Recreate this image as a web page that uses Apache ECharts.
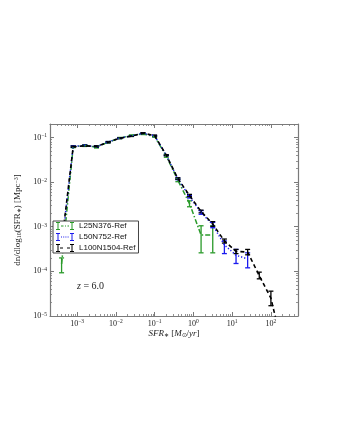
<!DOCTYPE html>
<html>
<head>
<meta charset="utf-8">
<script src="https://cdn.jsdelivr.net/npm/echarts@6/dist/echarts.min.js"></script>
<style>
  html, body { margin: 0; padding: 0; background: #fff; }
  #chart { width: 340px; height: 440px; }
</style>
</head>
<body>
<div id="chart"></div>
<script>
// bin centres in SFR [Msun/yr]
const sfrBins = [3.98e-4, 7.94e-4, 1.58e-3, 3.16e-3, 6.31e-3, 1.26e-2, 2.51e-2, 5.01e-2, 0.1, 0.2,
  0.398, 0.794, 1.58, 3.16, 6.31, 12.6, 25.1, 50.1, 100, 200];

// L25N376-Ref
const l25Values = [1.47e-4, 0.062, 0.066, 0.061, 0.078, 0.097, 0.11, 0.12, 0.105, 0.038, 0.011, 3.3e-3, 6.5e-4, 6.5e-4];
const l25Lo = [9.3e-5, 0.059, 0.063, 0.058, 0.075, 0.094, 0.106, 0.116, 0.101, 0.036, 0.0102, 2.8e-3, 2.6e-4, 2.6e-4];
const l25Hi = [2.0e-4, 0.065, 0.069, 0.064, 0.081, 0.1, 0.114, 0.124, 0.109, 0.04, 0.0118, 3.8e-3, 1.05e-3, 1.05e-3];

// L50N752-Ref
const l50Values = [3.5e-4, 0.063, 0.066, 0.062, 0.079, 0.097, 0.108, 0.124, 0.108, 0.04, 0.0118, 4.7e-3, 2.1e-3, 1.1e-3, 3.9e-4, 2.3e-4, 1.9e-4];
const l50Lo = [3.0e-4, 0.061, 0.064, 0.06, 0.077, 0.095, 0.106, 0.121, 0.105, 0.039, 0.0113, 4.4e-3, 1.9e-3, 9.5e-4, 2.5e-4, 1.5e-4, 1.2e-4];
const l50Hi = [4.0e-4, 0.065, 0.068, 0.064, 0.081, 0.099, 0.11, 0.127, 0.111, 0.041, 0.0123, 5.0e-3, 2.3e-3, 1.25e-3, 4.8e-4, 3.1e-4, 2.6e-4];

// L100N1504-Ref
const l100Values = [4.0e-4, 0.062, 0.065, 0.063, 0.078, 0.096, 0.107, 0.125, 0.11, 0.04, 0.012, 5.0e-3, 2.2e-3, 1.15e-3, 4.8e-4, 2.8e-4, 2.7e-4, 8.0e-5, 2.5e-5, 2.0e-6];
const l100Lo = [3.6e-4, 0.06, 0.063, 0.061, 0.076, 0.094, 0.105, 0.122, 0.107, 0.039, 0.0115, 4.7e-3, 2.05e-3, 1.02e-3, 4.3e-4, 2.5e-4, 2.35e-4, 6.8e-5, 1.7e-5, null];
const l100Hi = [4.4e-4, 0.064, 0.067, 0.065, 0.08, 0.098, 0.109, 0.128, 0.113, 0.041, 0.0125, 5.3e-3, 2.35e-3, 1.3e-3, 5.3e-4, 3.1e-4, 3.1e-4, 9.6e-5, 3.6e-5, null];

const serif = 'Liberation Serif';
const frameColor = '#7a7a7a';

// legend glyphs: error bar, line pattern, error bar (18 x 8 box)
const bars = 'M0 0H4V1H2.5V7H4V8H0V7H1.5V1H0Z M14 0H18V1H16.5V7H18V8H14V7H15.5V1H14Z';
const simulations = [
  {
    name: 'L25N376-Ref', color: '#2a9a2a', dash: [5, 2, 1.5, 2], width: 1.5,
    values: l25Values, lo: l25Lo, hi: l25Hi,
    icon: 'path://' + bars + ' M5 3.4H7.5V4.6H5Z M9 3.4H10V4.6H9Z M11.5 3.4H13V4.6H11.5Z',
  },
  {
    name: 'L50N752-Ref', color: '#1a1aee', dash: [1.2, 2], width: 1.5,
    values: l50Values, lo: l50Lo, hi: l50Hi,
    icon: 'path://' + bars + ' M5 3.4H6V4.6H5Z M7.2 3.4H8.2V4.6H7.2Z M9.4 3.4H10.4V4.6H9.4Z M11.6 3.4H12.6V4.6H11.6Z',
  },
  {
    name: 'L100N1504-Ref', color: '#000000', dash: [4, 3], width: 1.6,
    values: l100Values, lo: l100Lo, hi: l100Hi,
    icon: 'path://' + bars + ' M4 3.4H7V4.6H4Z M11 3.4H14V4.6H11Z',
  },
];

const powLabel = (v) => {
  const e = Math.log10(v);
  const r = Math.round(e);
  if (Math.abs(e - r) > 1e-6) return '';
  return '{b|10}{s|' + String(r).replace('-', '\u2212') + '}';
};

const labelRich = {
  b: { fontFamily: serif, fontSize: 8, color: '#222' },
  s: { fontFamily: serif, fontSize: 5.5, color: '#222', verticalAlign: 'top', padding: [0, 0, 3, 0] },
};

const logAxis = (extra) => Object.assign({
  type: 'log',
  logBase: 10,
  axisLine: { show: true, onZero: false, lineStyle: { color: frameColor, width: 1.2 } },
  axisTick: { show: true, inside: true, length: 4, lineStyle: { color: frameColor, width: 1 } },
  minorTick: { show: true, splitNumber: 9, length: 2, lineStyle: { color: frameColor, width: 0.8 } },
  splitLine: { show: false },
  minorSplitLine: { show: false },
}, extra);

const errorRender = (color) => (params, api) => {
  const x = api.value(0);
  const top = api.coord([x, api.value(2)]);
  const bot = api.coord([x, api.value(1)]);
  const cap = 2.5;
  const st = { stroke: color, lineWidth: 1.3 };
  return {
    type: 'group',
    children: [
      { type: 'line', shape: { x1: top[0], y1: top[1], x2: bot[0], y2: bot[1] }, style: st },
      { type: 'line', shape: { x1: top[0] - cap, y1: top[1], x2: top[0] + cap, y2: top[1] }, style: st },
      { type: 'line', shape: { x1: bot[0] - cap, y1: bot[1], x2: bot[0] + cap, y2: bot[1] }, style: st },
    ],
  };
};

const series = [];
simulations.forEach((s) => {
  series.push({
    name: s.name,
    type: 'line',
    color: s.color,
    data: s.values.map((v, i) => [sfrBins[i], v]),
    symbol: 'none',
    clip: true,
    lineStyle: { color: s.color, width: s.width, type: s.dash },
    animation: false,
  });
});
simulations.forEach((s) => {
  series.push({
    name: s.name,
    type: 'custom',
    color: s.color,
    data: s.lo.map((l, i) => [sfrBins[i], l, s.hi[i]]).filter((d) => d[1] !== null && d[1] !== undefined),
    encode: { x: 0, y: [1, 2] },
    renderItem: errorRender(s.color),
    clip: true,
    animation: false,
  });
});

const chart = echarts.init(document.getElementById('chart'), null, { renderer: 'canvas' });
chart.setOption({
  animation: false,
  backgroundColor: '#ffffff',
  grid: { left: 50, top: 124, width: 248, height: 192, outerBoundsMode: 'none' },
  xAxis: [
    logAxis({
      position: 'bottom', min: 2e-4, max: 500,
      axisLabel: { formatter: powLabel, rich: labelRich, margin: 3, showMinLabel: true, showMaxLabel: true },
      name: '{i|SFR}{sub|\u2217}{t| [}{i|M}{sub|\u2299}{t|/}{i|yr}{t|]}',
      nameLocation: 'middle',
      nameGap: 13,
      nameTextStyle: {
        rich: {
          i: { fontFamily: serif, fontStyle: 'italic', fontSize: 9, color: '#222' },
          t: { fontFamily: serif, fontSize: 9, color: '#222' },
          sub: { fontFamily: serif, fontSize: 6, color: '#222', verticalAlign: 'bottom' },
        },
      },
    }),
    logAxis({ position: 'top', min: 2e-4, max: 500, axisLabel: { show: false } }),
  ],
  yAxis: [
    logAxis({
      position: 'left', min: 1e-5, max: 0.2,
      axisLabel: { formatter: powLabel, rich: labelRich, margin: 3 },
      name: '{t|dn/dlog}{sub|10}{t|(SFR}{sub|\u2217}{t|) [Mpc}{sup|\u22123}{t|]}',
      nameLocation: 'middle',
      nameRotate: 90,
      nameGap: 27,
      nameTextStyle: {
        rich: {
          t: { fontFamily: serif, fontSize: 9, color: '#222' },
          sub: { fontFamily: serif, fontSize: 6, color: '#222', verticalAlign: 'bottom' },
          sup: { fontFamily: serif, fontSize: 6, color: '#222', verticalAlign: 'top' },
        },
      },
    }),
    logAxis({ position: 'right', min: 1e-5, max: 0.2, axisLabel: { show: false } }),
  ],
  legend: {
    orient: 'vertical',
    left: 53,
    top: 221,
    padding: [1, 3, 1, 3],
    itemGap: 3,
    itemWidth: 18,
    itemHeight: 8,
    backgroundColor: '#ffffff',
    borderColor: '#444',
    borderWidth: 1,
    borderRadius: 0,
    itemStyle: { borderWidth: 0 },
    textStyle: { fontFamily: 'Liberation Sans', fontSize: 8, color: '#111' },
    data: simulations.map((s) => ({ name: s.name, icon: s.icon })),
    selectedMode: false,
  },
  graphic: [
    {
      type: 'text',
      left: 77,
      top: 281,
      style: {
        text: '{i|z}{t| = 6.0}',
        rich: {
          i: { fontFamily: serif, fontStyle: 'italic', fontSize: 10, fill: '#222' },
          t: { fontFamily: serif, fontSize: 10, fill: '#222' },
        },
      },
    },
  ],
  series,
});
</script>
</body>
</html>
